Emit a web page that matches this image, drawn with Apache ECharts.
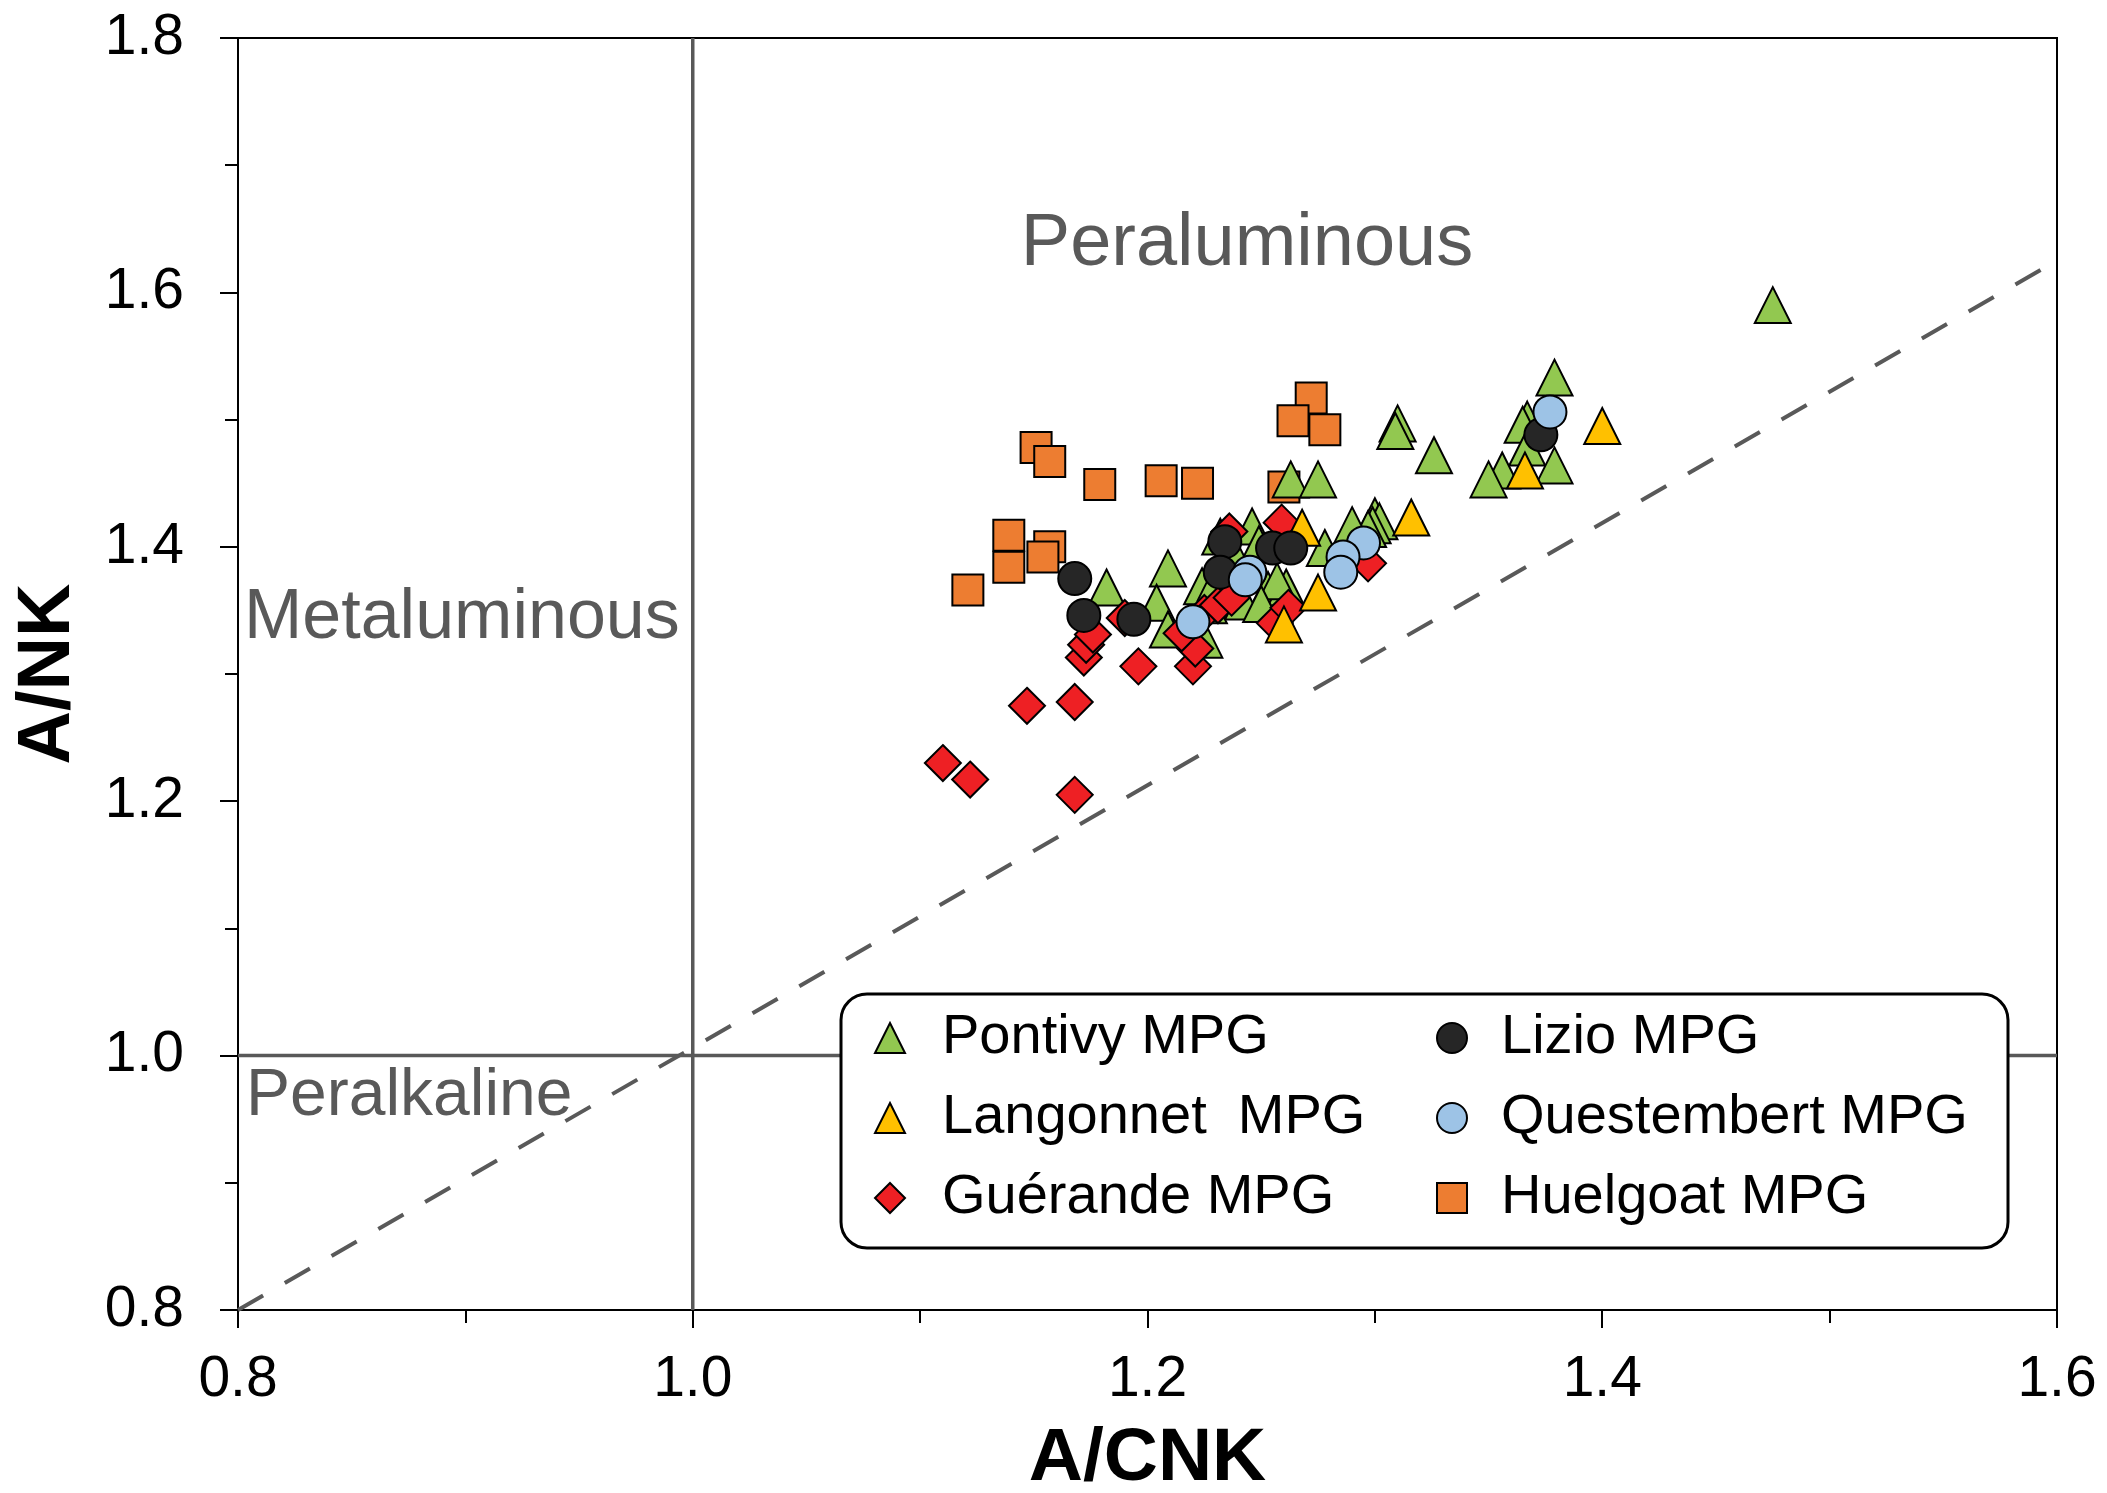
<!DOCTYPE html>
<html>
<head>
<meta charset="utf-8">
<script src="https://cdn.jsdelivr.net/npm/echarts@6/dist/echarts.min.js"></script>
<style>
html,body{margin:0;padding:0;background:#fff;}
#chart{width:2107px;height:1493px;}
</style>
</head>
<body>
<div id="chart"></div>
<script>
// ---- data (A/CNK, A/NK) ----
var pontivy = [
  [1.475,1.590],[1.379,1.533],[1.367,1.500],[1.365,1.496],[1.367,1.478],[1.379,1.464],[1.356,1.460],[1.350,1.453],
  [1.310,1.497],[1.309,1.491],[1.326,1.472],
  [1.263,1.453],[1.275,1.453],
  [1.300,1.424],[1.302,1.420],[1.299,1.417],[1.297,1.414],[1.290,1.417],[1.278,1.399],
  [1.246,1.416],[1.249,1.402],[1.232,1.408],[1.237,1.398],
  [1.253,1.366],[1.261,1.368],[1.257,1.373],[1.242,1.357],[1.250,1.355],
  [1.209,1.383],[1.182,1.368],[1.204,1.356],[1.224,1.369],[1.227,1.354],[1.209,1.335],[1.225,1.327],[1.230,1.372]
];
var langonnet = [[1.268,1.415],[1.316,1.423],[1.275,1.364],[1.260,1.339],[1.400,1.495],[1.366,1.460]];
var guerande = [
  [1.110,1.230],[1.122,1.217],[1.168,1.205],[1.147,1.275],[1.168,1.278],[1.196,1.306],[1.220,1.306],
  [1.172,1.313],[1.173,1.323],[1.176,1.331],[1.190,1.344],[1.221,1.320],[1.215,1.332],[1.225,1.348],
  [1.231,1.354],[1.237,1.360],[1.236,1.412],[1.259,1.419],[1.256,1.340],[1.297,1.387],[1.262,1.352]
];
var lizio = [[1.168,1.375],[1.172,1.346],[1.194,1.343],[1.234,1.404],[1.232,1.380],[1.255,1.399],[1.263,1.399],[1.373,1.488]];
var questembert = [[1.220,1.341],[1.245,1.380],[1.243,1.374],[1.295,1.403],[1.286,1.392],[1.285,1.380],[1.377,1.506]];
var huelgoat = [
  [1.272,1.517],[1.264,1.499],[1.278,1.492],[1.151,1.478],[1.157,1.467],[1.179,1.449],[1.206,1.452],
  [1.222,1.450],[1.260,1.447],[1.139,1.409],[1.157,1.400],[1.139,1.384],[1.154,1.392],[1.121,1.366]
];
// reference lines
var diagLine = [[0.8,0.8],[1.6,1.625]];
var vLine = [[1.0,0.8],[1.0,1.8]];
var hLine = [[0.8,1.0],[1.6,1.0]];

var FONT = '"Liberation Sans", Arial, sans-serif';
var GRAY = '#595959';

function scatter(name, data, symbol, size, color) {
  return {
    name: name, type: 'scatter', data: data, symbol: symbol, symbolSize: size,
    itemStyle: {color: color, borderColor: '#000', borderWidth: 2, opacity: 1},
    emphasis: {disabled: true}, z: 3
  };
}
function refLine(data, type, width) {
  return {
    type: 'line', data: data, showSymbol: false, silent: true, z: 1,
    lineStyle: {color: GRAY, width: width, type: type}, animation: false
  };
}

var chart = echarts.init(document.getElementById('chart'));
chart.setOption({
  animation: false,
  backgroundColor: '#fff',
  grid: {left: 238, right: 50, top: 38, bottom: 183, show: true, borderColor: '#000', borderWidth: 2,
         containLabel: false, outerBoundsMode: 'none'},
  xAxis: {
    type: 'value', min: 0.8, max: 1.6, interval: 0.2,
    name: 'A/CNK', nameLocation: 'middle', nameGap: 112, nameMoveOverlap: false,
    nameTextStyle: {fontFamily: FONT, fontSize: 75, fontWeight: 'bold', color: '#000'},
    axisLine: {show: true, onZero: false, lineStyle: {color: '#000', width: 2}},
    axisTick: {show: true, length: 18, lineStyle: {color: '#000', width: 2}},
    minorTick: {show: true, splitNumber: 2, length: 13, lineStyle: {color: '#000', width: 2}},
    splitLine: {show: false},
    axisLabel: {fontFamily: FONT, fontSize: 57, color: '#000', margin: 42, formatter: function(v){return v.toFixed(1);}}
  },
  yAxis: {
    type: 'value', min: 0.8, max: 1.8, interval: 0.2,
    name: 'A/NK', nameLocation: 'middle', nameGap: 152, nameMoveOverlap: false,
    nameTextStyle: {fontFamily: FONT, fontSize: 74, fontWeight: 'bold', color: '#000'},
    axisLine: {show: true, onZero: false, lineStyle: {color: '#000', width: 2}},
    axisTick: {show: true, length: 18, lineStyle: {color: '#000', width: 2}},
    minorTick: {show: true, splitNumber: 2, length: 13, lineStyle: {color: '#000', width: 2}},
    splitLine: {show: false},
    axisLabel: {fontFamily: FONT, fontSize: 57, color: '#000', margin: 54, formatter: function(v){return v.toFixed(1);}}
  },
  legend: [
    {
      data: ['Pontivy MPG', 'Langonnet  MPG', 'Guérande MPG'],
      orient: 'vertical', left: 869, top: 1005, itemWidth: 30, itemHeight: 30, itemGap: 24, z: 10,
      selectedMode: false,
      textStyle: {fontFamily: FONT, fontSize: 56, lineHeight: 56, color: '#000', padding: [0, 0, 0, 32]}
    },
    {
      data: ['Lizio MPG', 'Questembert MPG', 'Huelgoat MPG'],
      orient: 'vertical', left: 1431, top: 1005, itemWidth: 30, itemHeight: 30, itemGap: 24, z: 10,
      selectedMode: false,
      textStyle: {fontFamily: FONT, fontSize: 56, lineHeight: 56, color: '#000', padding: [0, 0, 0, 29]}
    }
  ],
  graphic: [
    {type: 'rect', z: 5, shape: {x: 841, y: 994, width: 1167, height: 254, r: 26},
     style: {fill: '#fff', stroke: '#000', lineWidth: 3}},
    {type: 'text', z: 4, x: 1247, y: 245,
     style: {text: 'Peraluminous', font: '74px ' + FONT, fill: GRAY, align: 'center', verticalAlign: 'middle'}},
    {type: 'text', z: 4, x: 244, y: 619,
     style: {text: 'Metaluminous', font: '70px ' + FONT, fill: GRAY, align: 'left', verticalAlign: 'middle'}},
    {type: 'text', z: 4, x: 246, y: 1097,
     style: {text: 'Peralkaline', font: '66px ' + FONT, fill: GRAY, align: 'left', verticalAlign: 'middle'}}
  ],
  series: [
    refLine(diagLine, [29, 25], 4),
    refLine(vLine, 'solid', 3.5),
    refLine(hLine, 'solid', 3.5),
    scatter('Huelgoat MPG', huelgoat, 'rect', 31, '#ED7D31'),
    scatter('Pontivy MPG', pontivy, 'triangle', 36, '#92C850'),
    scatter('Guérande MPG', guerande, 'diamond', 36, '#EE2024'),
    scatter('Langonnet  MPG', langonnet, 'triangle', 36, '#FFC000'),
    scatter('Lizio MPG', lizio, 'circle', 33, '#262626'),
    scatter('Questembert MPG', questembert, 'circle', 33, '#9DC3E6')
  ]
});
</script>
</body>
</html>
